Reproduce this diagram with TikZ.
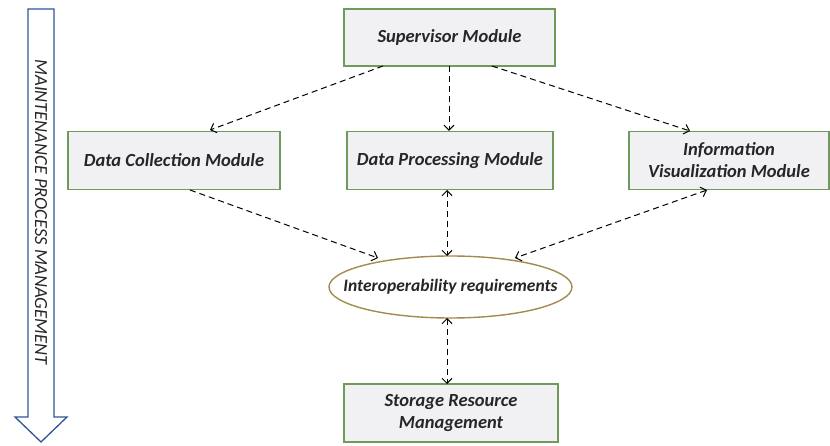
\documentclass[tikz,border=0pt]{standalone}
\usepackage{fontspec}
\setmainfont{Carlito}
\usetikzlibrary{arrows.meta,shapes.geometric}
\definecolor{boxfill}{HTML}{F1F1F4}
\definecolor{boxline}{HTML}{6F9A5C}
\definecolor{ellline}{HTML}{A38B50}
\definecolor{arrline}{HTML}{2F5597}
\tikzset{
  modbox/.style={draw=boxline, line width=1.3pt, fill=boxfill, align=center,
    font=\fontsize{18.5}{21}\selectfont\bfseries\itshape, text=black!85, inner sep=0pt},
  conn/.style={line width=1pt, dash pattern=on 6pt off 4pt, -{Straight Barb[length=5pt,width=10pt]}},
  bconn/.style={conn, {Straight Barb[length=5pt,width=10pt]}-{Straight Barb[length=5pt,width=10pt]}}
}
\begin{document}
\begin{tikzpicture}[x=1pt,y=-1pt]
\useasboundingbox (0,0) rectangle (830,446);
% big arrow
\draw[arrline, line width=1.3pt, line join=miter, fill=white]
  (28,9) -- (54,9) -- (54,417) -- (67,417) -- (41,442) -- (15,417) -- (28,417) -- cycle;
\node[rotate=-90, font=\fontsize{18.5}{21}\selectfont\itshape, text=black!85] (mpm) at (41,212) {MAINTENANCE PROCESS MANAGEMENT};
% boxes
\node[modbox, minimum width=211pt, minimum height=57pt] (sup) at (449.5,37.5) {Supervisor Module};
\node[modbox, minimum width=212pt, minimum height=58pt] (dcm) at (174,160.5) {Data Collection Module};
\node[modbox, minimum width=206pt, minimum height=58pt] (dpm) at (450,160.5) {Data Processing Module};
\node[modbox, minimum width=200pt, minimum height=58pt] (ivm) at (729,160.5) {Information\\[1pt]Visualization Module};
\node[draw=ellline, line width=1.4pt, fill=white, ellipse, minimum width=243pt, minimum height=62pt, inner sep=0pt] (ir) at (450.5,287) {};
\node[font=\fontsize{17.5}{20}\selectfont\bfseries\itshape, text=black!85, inner sep=0pt] (irt) at (ir.center) {Interoperability requirements};
\node[modbox, minimum width=214pt, minimum height=58pt] (srm) at (451,413) {Storage Resource\\[1pt]Management};
% connectors
\coordinate (s1) at (383,66);
\coordinate (s2) at (449,66);
\coordinate (s3) at (492,66);
\draw[conn] (s1) -- (210,130);
\draw[conn] (s2) -- (dpm.north -| s2);
\draw[conn] (s3) -- (690,131);
\draw[conn] (190,190) -- (378,258);
\draw[bconn] (447,190) -- (447,256);
\draw[bconn] (707,190) -- (515,258);
\draw[bconn] (447,318) -- (447,384);
\end{tikzpicture}
\end{document}
